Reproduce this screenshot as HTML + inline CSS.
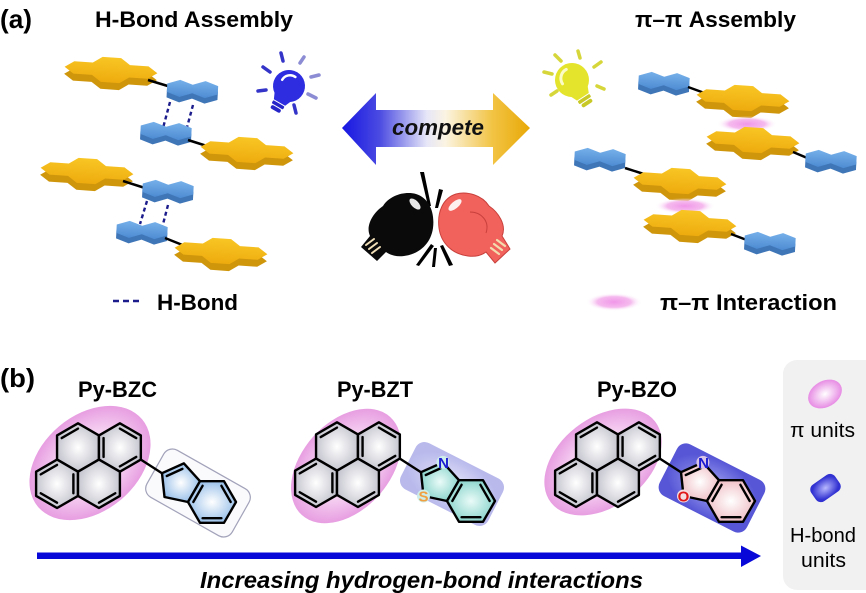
<!DOCTYPE html>
<html><head><meta charset="utf-8"><style>
html,body{margin:0;padding:0;background:#fff;}
svg{display:block;}
text{font-family:"Liberation Sans",Arial,sans-serif;}
</style></head><body>
<svg width="866" height="593" viewBox="0 0 866 593" xmlns="http://www.w3.org/2000/svg">
<defs>
<linearGradient id="gY" x1="0" y1="0" x2="0" y2="1"><stop offset="0" stop-color="#f8c624"/><stop offset="1" stop-color="#eeab0e"/></linearGradient>
<linearGradient id="gB" x1="0" y1="0" x2="0" y2="1"><stop offset="0" stop-color="#76b0ea"/><stop offset="1" stop-color="#4d8bd2"/></linearGradient>
<radialGradient id="pe"><stop offset="0" stop-color="#f096e8"/><stop offset="0.6" stop-color="#f4b2ec" stop-opacity="0.9"/><stop offset="1" stop-color="#ffffff" stop-opacity="0"/></radialGradient>
<radialGradient id="ringG"><stop offset="0" stop-color="#ffffff"/><stop offset="1" stop-color="#c6c6d0"/></radialGradient>
<radialGradient id="blueR"><stop offset="0" stop-color="#ffffff"/><stop offset="1" stop-color="#9cc2ea"/></radialGradient>
<radialGradient id="tealR"><stop offset="0" stop-color="#eafbf8"/><stop offset="1" stop-color="#8ed6ce"/></radialGradient>
<radialGradient id="pinkR"><stop offset="0" stop-color="#ffffff"/><stop offset="1" stop-color="#f0c2c8"/></radialGradient>
<radialGradient id="pyE"><stop offset="0" stop-color="#fdf6fc"/><stop offset="0.55" stop-color="#f6d2f2"/><stop offset="1" stop-color="#e79ee1"/></radialGradient>
<radialGradient id="bztR"><stop offset="0" stop-color="#e6e6fa"/><stop offset="1" stop-color="#b9b9ec"/></radialGradient>
<radialGradient id="bzoR"><stop offset="0" stop-color="#a8a8f4"/><stop offset="1" stop-color="#5656d6"/></radialGradient>
<radialGradient id="legP"><stop offset="0" stop-color="#ffffff"/><stop offset="1" stop-color="#e78ce4"/></radialGradient>
<radialGradient id="legB"><stop offset="0" stop-color="#b8b8ff"/><stop offset="1" stop-color="#3232d2"/></radialGradient>
<linearGradient id="arr" x1="342" y1="0" x2="530" y2="0" gradientUnits="userSpaceOnUse">
<stop offset="0" stop-color="#1616e2"/><stop offset="0.2" stop-color="#4b4be2"/><stop offset="0.45" stop-color="#e6e6f8"/><stop offset="0.55" stop-color="#fbf4e2"/><stop offset="0.8" stop-color="#f2c444"/><stop offset="1" stop-color="#e8a806"/></linearGradient>

<g id="ys">
<polygon transform="translate(0,7)" fill="#cf960c" points="9.3,-12.5 18.6,-6.2 37.2,-6.2 46.5,0 37.2,6.2 18.6,6.2 9.3,12.5 -9.3,12.5 -18.6,6.2 -37.2,6.2 -46.5,0 -37.2,-6.2 -18.6,-6.2 -9.3,-12.5"/>
<polygon fill="url(#gY)" points="9.3,-12.5 18.6,-6.2 37.2,-6.2 46.5,0 37.2,6.2 18.6,6.2 9.3,12.5 -9.3,12.5 -18.6,6.2 -37.2,6.2 -46.5,0 -37.2,-6.2 -18.6,-6.2 -9.3,-12.5"/>
</g>
<g id="bs">
<polygon transform="translate(0,5.5)" fill="#3f76b8" points="-12.7,-8.5 0,-4.2 12.7,-8.5 25.5,-4.2 25.5,4.2 12.7,8.5 0,4.2 -12.7,8.5 -25.5,4.2 -25.5,-4.2"/>
<polygon fill="url(#gB)" points="-12.7,-8.5 0,-4.2 12.7,-8.5 25.5,-4.2 25.5,4.2 12.7,8.5 0,4.2 -12.7,8.5 -25.5,4.2 -25.5,-4.2"/>
</g>

<g id="pyr">
<g fill="url(#ringG)" stroke="#000" stroke-width="2.4" stroke-linejoin="round">
<polygon points="0,-24.2 20.95,-12.1 20.95,12.1 0,24.2 -20.95,12.1 -20.95,-12.1"/>
<polygon points="41.9,-24.2 62.85,-12.1 62.85,12.1 41.9,24.2 20.95,12.1 20.95,-12.1"/>
<polygon points="-20.95,12.1 0,24.2 0,48.4 -20.95,60.5 -41.9,48.4 -41.9,24.2"/>
<polygon points="20.95,12.1 41.9,24.2 41.9,48.4 20.95,60.5 0,48.4 0,24.2"/>
</g>
<g stroke="#000" stroke-width="2.4" stroke-linecap="round">
<line x1="-16.34" y1="-9.44" x2="0" y2="-18.88"/>
<line x1="25.56" y1="-9.44" x2="25.56" y2="9.44"/>
<line x1="41.9" y1="-18.88" x2="58.24" y2="-9.44"/>
<line x1="58.24" y1="9.44" x2="41.9" y2="18.88"/>
<line x1="-37.29" y1="26.86" x2="-20.95" y2="17.42"/>
<line x1="-4.61" y1="26.86" x2="-4.61" y2="45.74"/>
<line x1="-37.29" y1="45.74" x2="-20.95" y2="55.18"/>
<line x1="20.95" y1="55.18" x2="37.29" y2="45.74"/>
<line x1="62.85" y1="12.1" x2="84" y2="25.7"/>
</g>
</g>
<g id="ind5">
<polygon points="84,25.7 105.9,15.9 122,33.7 110,54.5 86.5,49.5" stroke="#000" stroke-width="2.4" stroke-linejoin="round"/>
</g>
<g id="ind6">
<polygon points="158,54.5 146,75.3 122,75.3 110,54.5 122,33.7 146,33.7" stroke="#000" stroke-width="2.4" stroke-linejoin="round"/>
</g>
<g id="indL" stroke="#000" stroke-width="2.4" stroke-linecap="round">
<line x1="88.8" y1="28.5" x2="104.4" y2="21.4"/>
<line x1="115.3" y1="54.5" x2="124.6" y2="38.3"/>
<line x1="143.4" y1="70.7" x2="124.6" y2="70.7"/>
<line x1="143.4" y1="38.3" x2="152.7" y2="54.5"/>
</g>
</defs>

<rect width="866" height="593" fill="#fff"/>

<!-- (a) titles -->
<text x="0" y="28" font-size="26" font-weight="bold" textLength="32" lengthAdjust="spacingAndGlyphs">(a)</text>
<text x="95" y="27" font-size="22" font-weight="bold" textLength="198" lengthAdjust="spacingAndGlyphs">H-Bond Assembly</text>
<text x="635" y="27" font-size="22" font-weight="bold" textLength="161" lengthAdjust="spacingAndGlyphs">π–π Assembly</text>

<!-- left H-bond assembly -->
<use href="#ys" transform="translate(111,70) rotate(4)"/>
<line x1="148" y1="80" x2="171" y2="87" stroke="#000" stroke-width="2.5"/>
<use href="#bs" transform="translate(192.5,89) rotate(3)"/>
<g stroke="#1c1c8c" stroke-width="2.4" stroke-dasharray="4,3">
<line x1="170" y1="102" x2="163" y2="128"/><line x1="193" y1="105" x2="186" y2="131"/>
</g>
<use href="#bs" transform="translate(166,131) rotate(3)"/>
<line x1="188" y1="140" x2="210" y2="147" stroke="#000" stroke-width="2.5"/>
<use href="#ys" transform="translate(247,150) rotate(4)"/>
<use href="#ys" transform="translate(87,171) rotate(4)"/>
<line x1="123" y1="181" x2="145" y2="188" stroke="#000" stroke-width="2.5"/>
<use href="#bs" transform="translate(168,189) rotate(3)"/>
<g stroke="#1c1c8c" stroke-width="2.4" stroke-dasharray="4,3">
<line x1="147" y1="201" x2="140" y2="224"/><line x1="168" y1="205" x2="162" y2="228"/>
</g>
<use href="#bs" transform="translate(142,230) rotate(3)"/>
<line x1="165" y1="238" x2="185" y2="246" stroke="#000" stroke-width="2.5"/>
<use href="#ys" transform="translate(221,251) rotate(4)"/>

<!-- blue bulb -->
<g stroke-linecap="round" stroke-width="3.5">
<line x1="258" y1="91" x2="266" y2="90" stroke="#3434c8"/>
<line x1="263" y1="67" x2="270" y2="72" stroke="#3434c8"/>
<line x1="281" y1="53" x2="283" y2="61" stroke="#3434c8"/>
<line x1="304" y1="57" x2="300" y2="63" stroke="#8c8cd4"/>
<line x1="311" y1="77" x2="319" y2="75" stroke="#8c8cd4"/>
<line x1="308" y1="94" x2="316" y2="98" stroke="#8c8cd4"/>
<line x1="294" y1="105" x2="296" y2="113" stroke="#3434c8"/>
</g>
<g transform="translate(289,86) rotate(30)">
<circle r="16" fill="#2e2ee0"/>
<path d="M-10.5,10 L-6.5,19 L6.5,19 L10.5,10 Z" fill="#2e2ee0"/>
<rect x="-6.5" y="20" width="13" height="3.5" rx="1" fill="#2626c8"/>
<rect x="-5.5" y="24.5" width="11" height="4" rx="2" fill="#2626c8"/>
<path d="M-9,-2 A9,9 0 0 1 1,-11" stroke="#fff" stroke-width="2.5" fill="none" stroke-linecap="round"/>
</g>

<!-- double arrow -->
<polygon points="342,128 376,93 376,110 493,110 493,93 530,128 493,165 493,147 376,147 376,165" fill="url(#arr)"/>
<text x="392" y="135" font-size="22" font-weight="bold" font-style="italic" textLength="92" lengthAdjust="spacingAndGlyphs" fill="#111">compete</text>

<!-- gloves -->
<g>
<polygon points="420,172 424,172 431,206 428,206" fill="#000"/>
<polygon points="439,189 443,190 438,208 435,208" fill="#000"/>
<polygon points="431,244 434,246 419,266 416,265" fill="#000"/>
<polygon points="434,248 437,248 435,267 432,267" fill="#000"/>
<polygon points="440,246 443,245 453,265 449,266" fill="#000"/>
<path d="M383,206 C390,195 405,191 416,194 C429,198 435,212 433,228 C431,243 420,254 404,256 C396,257 390,255 386,252 L377,261 L361,247 L370,236 C365,225 374,212 383,206 Z" fill="#0a0a0a"/>
<g stroke="#f2e0b8" stroke-width="2" stroke-linecap="round">
<line x1="366" y1="245" x2="374" y2="239"/><line x1="369" y1="249" x2="377" y2="243"/><line x1="372" y1="253" x2="380" y2="247"/>
</g>
<ellipse cx="415" cy="204" rx="7" ry="3.5" transform="rotate(45 415 204)" fill="#fff" opacity="0.9"/>
<path d="M489,206 C482,195 467,191 456,194 C443,198 437,212 439,228 C441,243 452,254 468,256 C476,257 482,255 486,252 L495,263 L510,249 L502,236 C507,225 498,212 489,206 Z" fill="#f2625c" stroke="#c8403c" stroke-width="1"/>
<path d="M470,212 C481,212 490,221 486,233" stroke="#c8403c" stroke-width="1" fill="none"/>
<g stroke="#f2dcae" stroke-width="2.2" stroke-linecap="round">
<line x1="505" y1="246" x2="497" y2="240"/><line x1="502" y1="250" x2="494" y2="244"/><line x1="499" y1="254" x2="491" y2="248"/>
</g>
<ellipse cx="455" cy="205" rx="8" ry="3.5" transform="rotate(-40 455 205)" fill="#fff" opacity="0.9"/>
</g>

<!-- yellow bulb -->
<g stroke-linecap="round" stroke-width="3.5" stroke="#d6d63a">
<line x1="544" y1="72" x2="552" y2="74"/>
<line x1="555" y1="55" x2="561" y2="61"/>
<line x1="578" y1="51" x2="580" y2="58"/>
<line x1="601" y1="62" x2="594" y2="67"/>
<line x1="597" y1="86" x2="604" y2="89"/>
<line x1="551" y1="95" x2="557" y2="91"/>
</g>
<g transform="translate(572,80) rotate(-33)">
<circle r="17" fill="#e4e42c"/>
<path d="M-11,11 L-7,20 L7,20 L11,11 Z" fill="#e4e42c"/>
<rect x="-7" y="21" width="14" height="3.5" rx="1" fill="#c8c826"/>
<rect x="-6" y="25.5" width="12" height="4" rx="2" fill="#c8c826"/>
<path d="M-10,-2 A10,10 0 0 1 1,-12" stroke="#fbfbc8" stroke-width="3" fill="none" stroke-linecap="round"/>
</g>

<!-- right pi-pi assembly -->
<use href="#bs" transform="translate(664,81) rotate(3)"/>
<line x1="688" y1="87" x2="710" y2="95" stroke="#000" stroke-width="2.5"/>
<use href="#ys" transform="translate(743,98) rotate(4)"/>
<ellipse cx="747" cy="124" rx="30" ry="8" fill="url(#pe)"/>
<use href="#ys" transform="translate(753,140) rotate(4)"/>
<line x1="793" y1="152" x2="812" y2="160" stroke="#000" stroke-width="2.5"/>
<use href="#bs" transform="translate(831,159) rotate(3)"/>
<use href="#bs" transform="translate(600,157) rotate(3)"/>
<line x1="625" y1="168" x2="647" y2="175" stroke="#000" stroke-width="2.5"/>
<use href="#ys" transform="translate(680,181) rotate(4)"/>
<ellipse cx="685" cy="206" rx="30" ry="8" fill="url(#pe)"/>
<use href="#ys" transform="translate(690,223) rotate(4)"/>
<line x1="731" y1="234" x2="752" y2="242" stroke="#000" stroke-width="2.5"/>
<use href="#bs" transform="translate(770,241) rotate(3)"/>

<!-- legends (a) -->
<line x1="113" y1="301" x2="141" y2="301" stroke="#1c1c8c" stroke-width="2.4" stroke-dasharray="6,4"/>
<text x="157" y="310" font-size="22" font-weight="bold" textLength="81" lengthAdjust="spacingAndGlyphs">H-Bond</text>
<ellipse cx="614" cy="302" rx="28" ry="9" fill="url(#pe)"/>
<text x="660" y="310" font-size="22" font-weight="bold" textLength="177" lengthAdjust="spacingAndGlyphs">π–π Interaction</text>

<!-- (b) -->
<text x="0" y="387" font-size="26" font-weight="bold" textLength="35" lengthAdjust="spacingAndGlyphs">(b)</text>
<text x="78" y="397" font-size="22" font-weight="bold" textLength="79" lengthAdjust="spacingAndGlyphs">Py-BZC</text>
<text x="337" y="397" font-size="22" font-weight="bold" textLength="76" lengthAdjust="spacingAndGlyphs">Py-BZT</text>
<text x="597" y="397" font-size="22" font-weight="bold" textLength="80" lengthAdjust="spacingAndGlyphs">Py-BZO</text>

<!-- Py-BZC -->
<ellipse cx="90" cy="463" rx="68" ry="48" transform="rotate(-40 90 463)" fill="url(#pyE)"/>
<rect x="149" y="466" width="98" height="54" rx="10" transform="rotate(29.5 198 493)" fill="#fafafd" stroke="#a2a2ba" stroke-width="1.2"/>
<g transform="translate(78,447.5)">
<use href="#ind5" fill="url(#blueR)"/>
<use href="#ind6" fill="url(#blueR)"/>
<use href="#indL"/>
<use href="#pyr"/>
</g>

<!-- Py-BZT -->
<ellipse cx="346" cy="466" rx="66" ry="44" transform="rotate(-48 346 466)" fill="url(#pyE)"/>
<rect x="403" y="458" width="98" height="52" rx="10" transform="rotate(27 452 484)" fill="url(#bztR)"/>
<g transform="translate(337,446.5)">
<use href="#ind5" fill="url(#tealR)"/>
<use href="#ind6" fill="url(#tealR)"/>
<use href="#indL"/>
<use href="#pyr"/>
<circle cx="105.9" cy="15.9" r="6.5" fill="#cdeeea"/>
<circle cx="86.5" cy="49.5" r="6.5" fill="#cdeeea"/>
<text x="106.5" y="21.5" font-size="15" font-weight="bold" fill="#1a1ad0" text-anchor="middle">N</text>
<text x="86.5" y="55" font-size="15" font-weight="bold" fill="#f0a040" text-anchor="middle">S</text>
</g>

<!-- Py-BZO -->
<ellipse cx="603" cy="462" rx="66" ry="44" transform="rotate(-38 603 462)" fill="url(#pyE)"/>
<rect x="663" y="459" width="98" height="58" rx="10" transform="rotate(27 712 488)" fill="url(#bzoR)"/>
<g transform="translate(597,446.5)">
<use href="#ind5" fill="url(#pinkR)"/>
<use href="#ind6" fill="url(#pinkR)"/>
<use href="#indL"/>
<use href="#pyr"/>
<circle cx="105.9" cy="15.9" r="6.5" fill="#d8c4e6"/>
<circle cx="86.5" cy="49.5" r="6.5" fill="#f4dde0"/>
<text x="106.5" y="21.5" font-size="15" font-weight="bold" fill="#1a1ad0" text-anchor="middle">N</text>
<text x="86.5" y="55" font-size="15" font-weight="bold" fill="#e01818" text-anchor="middle">O</text>
</g>

<!-- legend box -->
<rect x="783" y="360" width="100" height="230" rx="14" fill="#f1f1f1"/>
<ellipse cx="825" cy="394" rx="18" ry="13" transform="rotate(-30 825 394)" fill="url(#legP)"/>
<text x="790" y="437" font-size="20" textLength="65" lengthAdjust="spacingAndGlyphs">π units</text>
<rect x="811" y="478" width="29" height="20" rx="6" transform="rotate(-35 825.5 488)" fill="url(#legB)"/>
<text x="790" y="542" font-size="20" textLength="66" lengthAdjust="spacingAndGlyphs">H-bond</text>
<text x="801" y="567" font-size="20" textLength="45" lengthAdjust="spacingAndGlyphs">units</text>

<!-- bottom arrow -->
<rect x="37" y="552.5" width="707" height="6.5" fill="#0808d8"/>
<polygon points="741,545.5 761,556 741,567" fill="#0808d8"/>
<text x="200" y="588" font-size="23" font-weight="bold" font-style="italic" textLength="443" lengthAdjust="spacingAndGlyphs">Increasing hydrogen-bond interactions</text>
</svg>
</body></html>
